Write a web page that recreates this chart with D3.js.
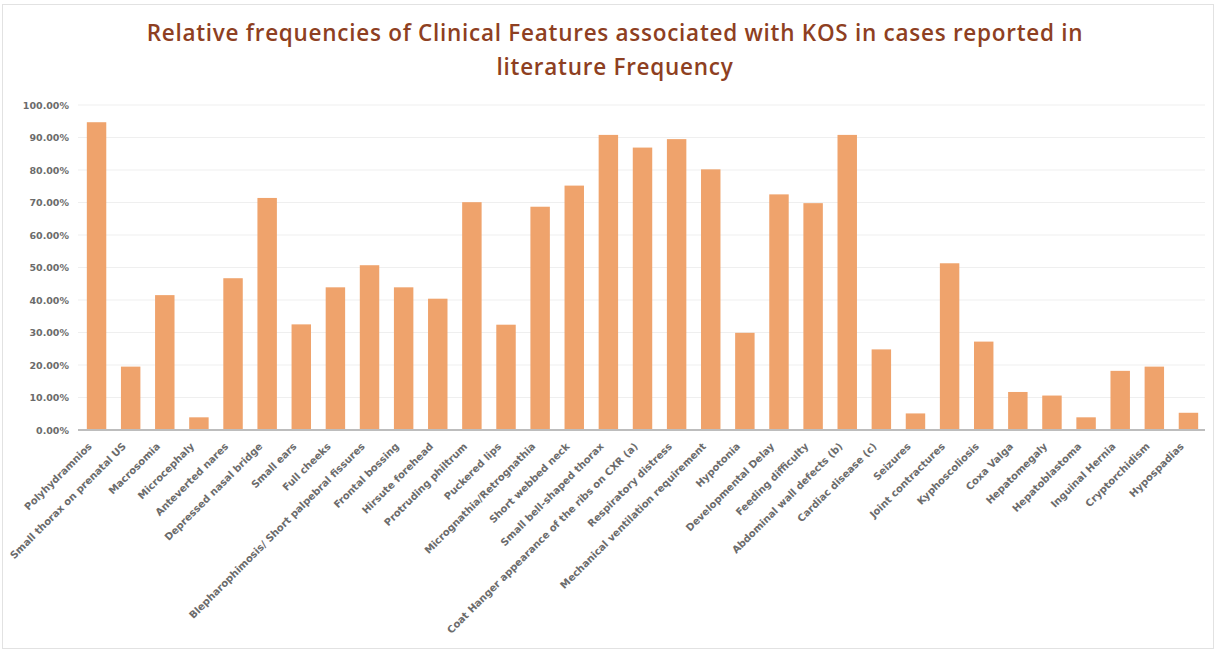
<!DOCTYPE html>
<html>
<head>
<meta charset="utf-8">
<script src="https://cdn.jsdelivr.net/npm/d3@7"></script>
<style>
  body { margin: 0; background: #fff; }
  svg { display: block; }
</style>
</head>
<body>
<div id="chart"></div>
<script>
const features = [
    'Polyhydramnios', 'Small thorax on prenatal US', 'Macrosomia', 'Microcephaly',
    'Anteverted nares', 'Depressed nasal bridge', 'Small ears', 'Full cheeks',
    'Blepharophimosis/ Short palpebral fissures', 'Frontal bossing', 'Hirsute forehead',
    'Protruding philtrum', 'Puckered lips', 'Micrognathia/Retrognathia', 'Short webbed neck',
    'Small bell-shaped thorax', 'Coat Hanger appearance of the ribs on CXR (a)',
    'Respiratory distress', 'Mechanical ventilation requirement', 'Hypotonia',
    'Developmental Delay', 'Feeding difficulty', 'Abdominal wall defects (b)',
    'Cardiac disease (c)', 'Seizures', 'Joint contractures', 'Kyphoscoliosis', 'Coxa Valga',
    'Hepatomegaly', 'Hepatoblastoma', 'Inguinal Hernia', 'Cryptorchidism', 'Hypospadias'
];
const frequency = [
    0.947, 0.195, 0.415, 0.039,
    0.467, 0.714, 0.325, 0.439,
    0.507, 0.439, 0.404,
    0.701, 0.324, 0.687, 0.752,
    0.908, 0.869,
    0.895, 0.802, 0.299,
    0.725, 0.698, 0.908,
    0.248, 0.051, 0.513, 0.272, 0.117,
    0.106, 0.039, 0.182, 0.195, 0.053
];
const yTicks = [0, 0.1, 0.2, 0.3, 0.4, 0.5, 0.6, 0.7, 0.8, 0.9, 1.0];
const titleLines = [
    'Relative frequencies of Clinical Features associated with KOS in cases reported in',
    'literature Frequency'
];

const width = 1216, height = 651;
const margin = { top: 105, right: 11, bottom: 221, left: 80 };

const svg = d3.select('#chart').append('svg')
    .attr('width', width)
    .attr('height', height);

// outer frame
svg.append('rect')
    .attr('x', 2.5).attr('y', 4.5)
    .attr('width', 1211).attr('height', 644)
    .attr('fill', '#fff')
    .attr('stroke', '#e2e2e2');

const title = svg.append('g')
    .selectAll('text')
    .data(titleLines)
    .join('text')
    .attr('x', 615)
    .attr('y', (d, i) => 41 + i * 34)
    .attr('text-anchor', 'middle')
    .attr('fill', '#8e3f22')
    .style('font-family', '"Open Sans", sans-serif')
    .style('font-weight', 600)
    .style('font-size', '22.5px')
    .text(d => d);

// stretch the spacing so the first line is as wide as in the original
const first = title.node();
const natural = first.getComputedTextLength();
const spacing = (936 - natural) / (titleLines[0].length - 1);
title.style('letter-spacing', `${spacing}px`);

const x = d3.scaleBand()
    .domain(features)
    .range([margin.left, width - margin.right])
    .paddingInner(0.43)
    .paddingOuter(0.2);

const y = d3.scaleLinear()
    .domain([0, 1])
    .range([height - margin.bottom, margin.top]);

// gridlines
svg.append('g')
    .attr('stroke', '#efefef')
    .selectAll('line')
    .data(yTicks.slice(1))
    .join('line')
    .attr('x1', margin.left - 2)
    .attr('x2', width - margin.right)
    .attr('y1', d => y(d))
    .attr('y2', d => y(d));

// y axis labels
const yAxis = svg.append('g')
    .attr('transform', `translate(${margin.left - 11},0)`)
    .call(d3.axisLeft(y).tickValues(yTicks).tickFormat(d3.format('.2%')).tickSize(0).tickPadding(0));
yAxis.select('.domain').remove();
yAxis.selectAll('text')
    .attr('fill', '#6b6b6b')
    .style('font-family', '"DejaVu Sans", sans-serif')
    .style('font-weight', 'bold')
    .style('font-size', '9.5px');

// bars
svg.append('g')
    .attr('fill', '#efa36c')
    .selectAll('rect')
    .data(frequency)
    .join('rect')
    .attr('x', (d, i) => x(features[i]))
    .attr('y', d => y(d))
    .attr('width', x.bandwidth())
    .attr('height', d => y(0) - y(d));

// x axis
const xAxis = svg.append('g')
    .attr('transform', `translate(0,${y(0)})`)
    .call(d3.axisBottom(x).tickSize(0).tickPadding(0));
xAxis.select('.domain')
    .attr('stroke', '#bdbdbd')
    .attr('stroke-width', 2)
    .attr('d', `M${margin.left - 2},0H${width - margin.right}`);
xAxis.selectAll('.tick text')
    .attr('text-anchor', 'end')
    .attr('fill', '#6b6b6b')
    .attr('dy', 0)
    .attr('transform', 'translate(-4,17) rotate(-45)')
    .style('font-family', '"DejaVu Sans", sans-serif')
    .style('font-weight', 'bold')
    .style('font-size', '10px');
</script>
</body>
</html>
